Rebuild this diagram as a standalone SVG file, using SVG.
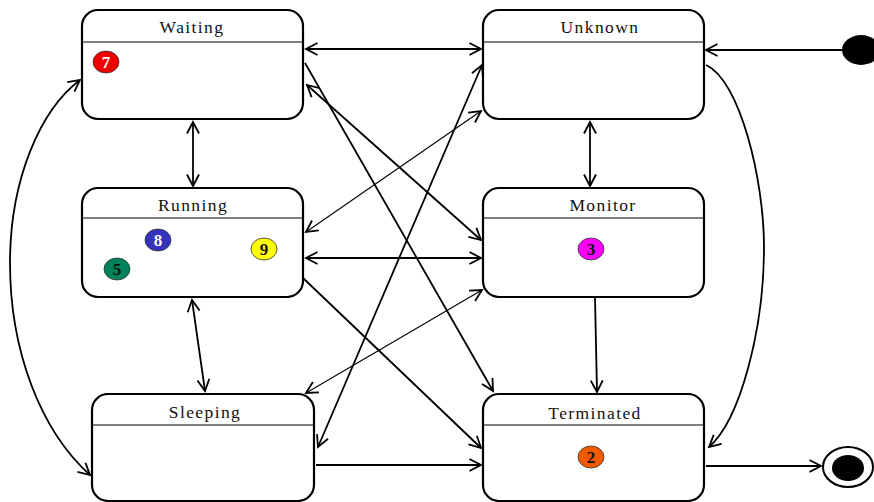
<svg xmlns="http://www.w3.org/2000/svg" width="874" height="502" viewBox="0 0 874 502">
  <style>
    .box { fill: #ffffff; stroke: #000000; stroke-width: 2.2; }
    .hdr { stroke: #000000; stroke-width: 1.2; }
    .title { font-family: "Liberation Serif", "Times New Roman", serif; font-size: 17.5px; letter-spacing: 1.4px; fill: #111111; text-anchor: middle; }
    .badge { stroke: #333333; stroke-width: 0.8; }
    .num { font-family: "Liberation Serif", "Times New Roman", serif; font-size: 17px; font-weight: bold; text-anchor: middle; }
    .c { fill: none; stroke: #000000; stroke-width: 1.8; }
    .thin { stroke-width: 1.1; }
    .both { marker-start: url(#ah); marker-end: url(#ah); }
    .one { marker-end: url(#ah); }
  </style>
  <defs>
    <marker id="ah" markerUnits="userSpaceOnUse" markerWidth="16" markerHeight="16" viewBox="0 0 16 16" refX="14" refY="8" orient="auto-start-reverse">
      <path d="M2.5,2 L14,8 L2.5,14" fill="none" stroke="#000000" stroke-width="1.8"/>
    </marker>
  </defs>
  <rect width="874" height="502" fill="#ffffff"/>

  <!-- transitions -->
  <g id="connectors">
    <line class="c both" x1="306" y1="49" x2="481" y2="49"/>
    <line class="c one" x1="845" y1="50" x2="706" y2="50" stroke-width="2.4"/>
    <line class="c both" x1="193" y1="122" x2="193" y2="186"/>
    <line class="c both" x1="590" y1="122" x2="590" y2="186"/>
    <line class="c both" x1="306" y1="258" x2="481" y2="258" stroke-width="2.2"/>
    <line class="c both" x1="192" y1="300" x2="205" y2="391"/>
    <line class="c one" x1="595" y1="298" x2="597" y2="392"/>
    <line class="c one" x1="316" y1="465" x2="481" y2="465"/>
    <line class="c one" x1="706" y1="466" x2="821" y2="466" stroke-width="2.2"/>
    <line class="c one" x1="305" y1="63" x2="493" y2="391"/>
    <line class="c both" x1="307" y1="85" x2="481" y2="240"/>
    <line class="c both thin" x1="306" y1="232" x2="481" y2="111"/>
    <line class="c both" x1="482" y1="65" x2="318" y2="447"/>
    <line class="c both thin" x1="482" y1="290" x2="306" y2="393"/>
    <line class="c one" x1="303" y1="278" x2="481" y2="448"/>
    <path class="c both" d="M80,80 C40,110 10,180 10,263 C10,350 40,430 90,475"/>
    <path class="c one" d="M706,65 C740,80 764,180 764,247 C764,330 740,420 709,447"/>
  </g>

  <g id="initial">
    <ellipse cx="861" cy="50" rx="19" ry="15" fill="#000000"/>
  </g>

  <g id="final">
    <ellipse cx="848" cy="467" rx="25" ry="20" fill="#ffffff" stroke="#000000" stroke-width="2"/>
    <ellipse cx="848" cy="468" rx="16" ry="13" fill="#000000"/>
  </g>

  <g id="waiting">
    <rect class="box" x="82" y="10" width="221" height="109" rx="16"/>
    <line class="hdr" x1="82" y1="42" x2="303" y2="42"/>
    <text class="title" x="192" y="33">Waiting</text>
    <ellipse class="badge" cx="106" cy="62" rx="13" ry="11" fill="#ee0000"/>
    <text class="num" x="106" y="68" fill="#ffffff">7</text>
  </g>

  <g id="unknown">
    <rect class="box" x="483" y="10" width="221" height="109" rx="16"/>
    <line class="hdr" x1="483" y1="42" x2="704" y2="42"/>
    <text class="title" x="600" y="33">Unknown</text>
  </g>

  <g id="running">
    <rect class="box" x="82" y="188" width="221" height="109" rx="16"/>
    <line class="hdr" x1="82" y1="218" x2="303" y2="218"/>
    <text class="title" x="193" y="211">Running</text>
    <ellipse class="badge" cx="158" cy="240" rx="13" ry="11" fill="#3333bb"/>
    <text class="num" x="158" y="246" fill="#ffffff">8</text>
    <ellipse class="badge" cx="117" cy="269" rx="13" ry="11" fill="#00835a"/>
    <text class="num" x="117" y="275" fill="#111111">5</text>
    <ellipse class="badge" cx="264" cy="249" rx="13" ry="11" fill="#ffff00"/>
    <text class="num" x="264" y="255" fill="#111111">9</text>
  </g>

  <g id="monitor">
    <rect class="box" x="483" y="188" width="221" height="109" rx="16"/>
    <line class="hdr" x1="483" y1="218" x2="704" y2="218"/>
    <text class="title" x="603" y="211">Monitor</text>
    <ellipse class="badge" cx="591" cy="249" rx="13" ry="11" fill="#ff00ff"/>
    <text class="num" x="591" y="255" fill="#111111">3</text>
  </g>

  <g id="sleeping">
    <rect class="box" x="92" y="394" width="222" height="107" rx="16"/>
    <line class="hdr" x1="92" y1="425" x2="314" y2="425"/>
    <text class="title" x="205" y="418">Sleeping</text>
  </g>

  <g id="terminated">
    <rect class="box" x="483" y="394" width="221" height="107" rx="16"/>
    <line class="hdr" x1="483" y1="425" x2="704" y2="425"/>
    <text class="title" x="595" y="419">Terminated</text>
    <ellipse class="badge" cx="591" cy="457" rx="13" ry="11" fill="#f25a00"/>
    <text class="num" x="591" y="463" fill="#111111">2</text>
  </g>
</svg>
